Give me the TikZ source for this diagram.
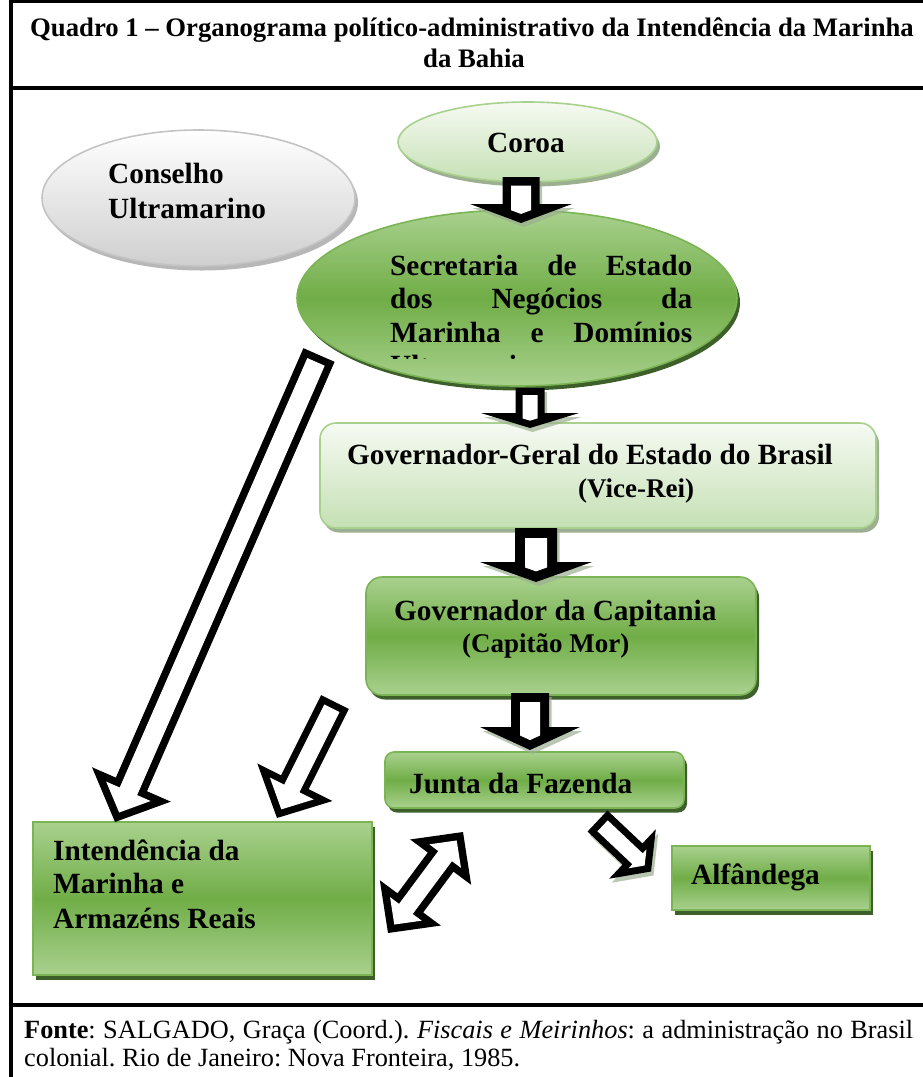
\documentclass[tikz,border=0pt]{standalone}
\usepackage{fontspec}
\setmainfont{Liberation Serif}
\frenchspacing
\usetikzlibrary{shapes.geometric,calc,shadows}
\definecolor{mgreen}{HTML}{70AD47}
\definecolor{lgreen}{HTML}{A9D18E}
\definecolor{llgreen}{HTML}{C5E0B4}
\definecolor{vlgreen}{HTML}{F6FAF3}
\definecolor{dgreen}{HTML}{3D5F2A}
\definecolor{sgreen}{HTML}{9CAF90}
\definecolor{cgrey}{HTML}{C4C4C4}
\definecolor{cgreyd}{HTML}{CFCFCF}

\newcommand\barrowpoly[6]{%
  \coordinate (bmA) at ($(#2)!#5pt!(#1)$);
  \fill[#6] ($(#1)!#3pt!90:(#2)$) -- ($(bmA)!#3pt!90:(#2)$) -- ($(bmA)!#4pt!90:(#2)$) -- (#2)
    -- ($(bmA)!#4pt!-90:(#2)$) -- ($(bmA)!#3pt!-90:(#2)$) -- ($(#1)!#3pt!-90:(#2)$) -- cycle;
}
\newcommand\blockarrow[7]{%
  \pgfmathsetmacro\baA{atan2(#4,#5)}%
  \pgfmathsetmacro\baD{#6/sin(\baA)}%
  \pgfmathsetmacro\baW{#3-#6}%
  \pgfmathsetmacro\baH{max(\baW,(#5-#6-\baD)*#4/#5)}%
  \pgfmathsetmacro\baL{\baH*#5/#4}%
  #7
  \barrowpoly{#1}{#2}{#3}{#4}{#5}{black}
  \coordinate (biA) at ($(#1)!#6pt!(#2)$);
  \coordinate (biB) at ($(#2)!\baD pt!(#1)$);
  \barrowpoly{biA}{biB}{\baW}{\baH}{\baL}{white}
}
\newcommand\dbarrowpoly[6]{%
  \coordinate (dmA) at ($(#1)!#5pt!(#2)$);
  \coordinate (dmB) at ($(#2)!#5pt!(#1)$);
  \fill[#6] (#1) -- ($(dmA)!#4pt!90:(#2)$) -- ($(dmA)!#3pt!90:(#2)$) -- ($(dmB)!#3pt!-90:(#1)$)
    -- ($(dmB)!#4pt!-90:(#1)$) -- (#2) -- ($(dmB)!#4pt!90:(#1)$) -- ($(dmB)!#3pt!90:(#1)$)
    -- ($(dmA)!#3pt!-90:(#2)$) -- ($(dmA)!#4pt!-90:(#2)$) -- cycle;
}
\newcommand\dblockarrow[6]{%
  \pgfmathsetmacro\baA{atan2(#4,#5)}%
  \pgfmathsetmacro\baD{#6/sin(\baA)}%
  \pgfmathsetmacro\baW{#3-#6}%
  \pgfmathsetmacro\baH{max(\baW,(#5-#6-\baD)*#4/#5)}%
  \pgfmathsetmacro\baL{\baH*#5/#4}%
  \dbarrowpoly{#1}{#2}{#3}{#4}{#5}{black}
  \coordinate (diA) at ($(#1)!\baD pt!(#2)$);
  \coordinate (diB) at ($(#2)!\baD pt!(#1)$);
  \dbarrowpoly{diA}{diB}{\baW}{\baH}{\baL}{white}
}

\tikzset{
  medbox/.style={inner sep=0pt, top color=lgreen, bottom color=lgreen, middle color=mgreen,
    draw=mgreen!80!lgreen, line width=1.6pt,
    drop shadow={shadow xshift=3pt, shadow yshift=-4.5pt, fill=dgreen, opacity=1}},
  lightbox/.style={inner sep=0pt, top color=vlgreen, bottom color=llgreen,
    draw=lgreen, line width=1.6pt,
    drop shadow={shadow xshift=3pt, shadow yshift=-4.5pt, fill=sgreen, opacity=1}},
  greybox/.style={inner sep=0pt, top color=white, bottom color=cgreyd,
    draw=cgrey, line width=1.6pt,
    drop shadow={shadow xshift=3pt, shadow yshift=-4.5pt, fill=gray!70, opacity=0.8}},
  lbl/.style={anchor=base west, inner sep=0pt, font=\fontsize{29.3}{33}\selectfont\bfseries},
  sublbl/.style={anchor=base west, inner sep=0pt, font=\fontsize{27}{31}\selectfont\bfseries},
  titlelbl/.style={anchor=base, inner sep=0pt, font=\fontsize{26.7}{31}\selectfont\bfseries},
  footlbl/.style={anchor=base west, inner sep=0pt, font=\fontsize{26.3}{30}\selectfont},
  frameline/.style={line width=3.2pt, black},
  arrshadow/.style={fill=sgreen, opacity=0.7, transform canvas={shift={(2.5pt,-4pt)}}}
}

\begin{document}
\begin{tikzpicture}[x=1pt,y=-1pt]
\fill[white] (0,0) rectangle (923,1077);
\useasboundingbox (0,0) rectangle (923,1077);

% frame
\draw[frameline, line width=4pt] (11,0) -- (11,1077);
\draw[frameline] (9,1.5) -- (923,1.5);
\draw[frameline] (9,88) -- (923,88);
\draw[frameline] (9,1005) -- (923,1005);

% title
\node[titlelbl] (title1) at (472,36) {Quadro 1 – Organograma político-administrativo da Intendência da Marinha};
\node[titlelbl] (title2) at (474,67) {da Bahia};

% shapes
\node[ellipse, greybox, minimum width=313pt, minimum height=136pt] (conselho) at (198.5,198) {};
\node[ellipse, lightbox, minimum width=259pt, minimum height=80pt] (coroa) at (527.5,142) {};
\node[ellipse, medbox, minimum width=440pt, minimum height=176pt] (secretaria) at (517,298) {};
\node[rectangle, lightbox, rounded corners=16pt, minimum width=556pt, minimum height=105pt] (govgeral) at (598,475.5) {};
\node[rectangle, medbox, rounded corners=16pt, minimum width=390pt, minimum height=118pt] (capitania) at (561,636) {};
\node[rectangle, medbox, rounded corners=9pt, minimum width=299pt, minimum height=56pt] (junta) at (534.5,780) {};
\node[rectangle, medbox, minimum width=339pt, minimum height=153pt] (intendencia) at (202.5,898.5) {};
\node[rectangle, medbox, minimum width=198pt, minimum height=64pt] (alfandega) at (771,878) {};

% texts
\node[lbl] (coroaT) at (487,152) {Coroa};
\node[lbl] (conselhoT1) at (108,183) {Conselho};
\node[lbl] (conselhoT2) at (108,218) {Ultramarino};
\node[lbl] (secT1) at (390,275) {\hbox to 302pt{Secretaria\hfill de\hfill Estado}};
\node[lbl] (secT2) at (390,308) {\hbox to 302pt{dos\hfill Negócios\hfill da}};
\node[lbl] (secT3) at (390,342) {\hbox to 302pt{Marinha\hfill e\hfill Domínios}};
\begin{scope}
  \clip (380,340) rectangle (720,358.5);
  \node[lbl] (secT4) at (390,375.5) {Ultramarinos};
\end{scope}
\node[lbl] (govgeralT1) at (347,464) {Governador-Geral do Estado do Brasil};
\node[sublbl] (govgeralT2) at (578,497) {(Vice-Rei)};
\node[lbl] (capitaniaT1) at (394,620) {Governador da Capitania};
\node[sublbl] (capitaniaT2) at (462,652) {(Capitão Mor)};
\node[lbl] (juntaT) at (409,793) {Junta da Fazenda};
\node[lbl] (intT1) at (53,860) {Intendência da};
\node[lbl] (intT2) at (53,893) {Marinha e};
\node[lbl] (intT3) at (53,928) {Armazéns Reais};
\node[lbl] (alfT) at (691,884) {Alfândega};

% footer
\node[footlbl] (foot1) at (24,1038) {\hbox to 889pt{\textbf{Fonte}: SALGADO, Graça (Coord.). \textit{Fiscais e Meirinhos}: a administração no Brasil}};
\node[footlbl] (foot2) at (24,1066) {colonial. Rio de Janeiro: Nova Fronteira, 1985.};

% arrow end points
\coordinate (a1) at (521,177); \coordinate (a2) at (521,223);
\coordinate (b1) at (530,388); \coordinate (b2) at (530,428);
\coordinate (c1) at (536,528); \coordinate (c2) at (536,582);
\coordinate (d1) at (530,693); \coordinate (d2) at (530,750);
\coordinate (e1) at (319,355); \coordinate (e2) at (115,822);
\coordinate (f1) at (335,702); \coordinate (f2) at (277,818);
\coordinate (g1) at (463,832); \coordinate (g2) at (388,933);
\coordinate (h1) at (597.5,821); \coordinate (h2) at (651,871.5);

% block arrows
\blockarrow{a1}{a2}{18.5}{51}{19}{8.5}{\barrowpoly{a1}{a2}{18.5}{51}{19}{arrshadow}}
\blockarrow{b1}{b2}{14.5}{49}{15}{7}{\barrowpoly{b1}{b2}{14.5}{49}{15}{arrshadow}}
\blockarrow{c1}{c2}{21}{56}{20}{10}{\barrowpoly{c1}{c2}{21}{56}{20}{arrshadow}}
\blockarrow{d1}{d2}{19}{50}{23}{9}{\barrowpoly{d1}{d2}{19}{50}{23}{arrshadow}}
\blockarrow{e1}{e2}{17}{43}{41}{7.5}{}
\blockarrow{f1}{f2}{15.5}{42}{40}{7}{}
\dblockarrow{g1}{g2}{16}{38}{37.5}{7.5}
\blockarrow{h1}{h2}{14.5}{34}{25.5}{7}{\barrowpoly{h1}{h2}{14.5}{34}{25.5}{arrshadow}}
\end{tikzpicture}
\end{document}
